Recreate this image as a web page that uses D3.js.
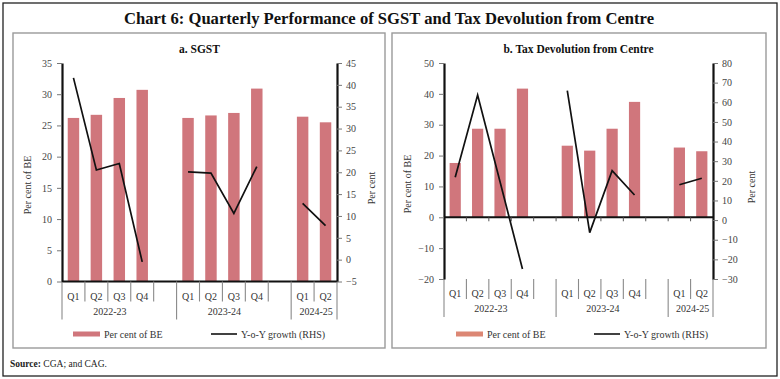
<!DOCTYPE html>
<html>
<head>
<meta charset="utf-8">
<script src="https://cdn.jsdelivr.net/npm/d3@7"></script>
<style>
  html, body { margin: 0; padding: 0; background: #fff; }
  svg { display: block; }
  text { font-family: "Liberation Serif", "Times New Roman", serif; }
</style>
</head>
<body>
<svg id="chart" width="780" height="379"></svg>
<script>
// ---------- DATA ----------
const quarters = ["Q1","Q2","Q3","Q4","","Q1","Q2","Q3","Q4","","Q1","Q2"];
const yearOfSlot = ["2022-23","2022-23","2022-23","2022-23","2022-23",
                    "2023-24","2023-24","2023-24","2023-24","2023-24",
                    "2024-25","2024-25"];
const years = ["2022-23","2023-24","2024-25"];

const sgstPerCentBE = [26.2, 26.7, 29.4, 30.7, null, 26.2, 26.6, 27.0, 30.9, null, 26.4, 25.5];
const sgstGrowth    = [41.6, 20.5, 22.0, -0.5, null, 20.1, 19.8, 10.6, 21.3, null, 12.9, 7.8];

const tdPerCentBE   = [17.6, 28.7, 28.7, 41.7, null, 23.2, 21.6, 28.7, 37.4, null, 22.6, 21.4];
const tdGrowth      = [21.8, 63.7, 19.5, -24.9, null, 65.9, -6.4, 25.2, 12.8, null, 18.0, 21.3];

const sgstLeftTicks  = [0, 5, 10, 15, 20, 25, 30, 35];
const sgstRightTicks = [-5, 0, 5, 10, 15, 20, 25, 30, 35, 40, 45];
const tdLeftTicks    = [-20, -10, 0, 10, 20, 30, 40, 50];
const tdRightTicks   = [-30, -20, -10, 0, 10, 20, 30, 40, 50, 60, 70, 80];

const chartTitle = "Chart 6: Quarterly Performance of SGST and Tax Devolution from Centre";
const legendBar = "Per cent of BE";
const legendLine = "Y-o-Y growth (RHS)";

// ---------- STYLE ----------
const barColor = "#D0767C";
const svg = d3.select("#chart");

// outer frame
svg.append("rect").attr("x", 3).attr("y", 3).attr("width", 774).attr("height", 373)
  .attr("fill", "none").attr("stroke", "#222").attr("stroke-width", 1.3);

svg.append("text").attr("x", 389).attr("y", 24).attr("text-anchor", "middle")
  .attr("font-size", 16.6).attr("fill", "#111").style("font-weight", "600").text(chartTitle);

svg.append("text").attr("x", 10).attr("y", 367).attr("font-size", 9.5).attr("fill", "#222")
  .call(t => {
    t.append("tspan").attr("font-weight", "bold").text("Source:");
    t.append("tspan").text(" CGA; and CAG.");
  });

function drawPanel(cfg) {
  const g = svg.append("g");
  // panel frame
  g.append("rect").attr("x", cfg.box[0]).attr("y", cfg.box[1])
    .attr("width", cfg.box[2]).attr("height", cfg.box[3])
    .attr("fill", "none").attr("stroke", "#9a9a9a").attr("stroke-width", 1.4);

  const x = d3.scaleBand().domain(d3.range(quarters.length)).range([cfg.x0, cfg.x1]).paddingInner(0).paddingOuter(0);
  const yL = d3.scaleLinear().domain(cfg.leftDomain).range([cfg.yBottom, cfg.yTop]);
  const yR = d3.scaleLinear().domain(cfg.rightDomain).range([cfg.yBottom, cfg.yTop]);
  const bw = x.bandwidth();

  // title
  g.append("text").attr("x", (cfg.x0 + cfg.x1) / 2).attr("y", 53).attr("text-anchor", "middle")
    .attr("font-size", 11.5).attr("font-weight", "bold").attr("fill", "#111").text(cfg.title);

  // bars
  const barData = cfg.bars.map((v, i) => ({ i, v })).filter(d => d.v !== null);
  g.selectAll("rect.bar").data(barData).enter().append("rect").attr("class", "bar")
    .attr("x", d => x(d.i) + bw * 0.25).attr("width", bw * 0.5)
    .attr("y", d => yL(Math.max(0, d.v))).attr("height", d => Math.abs(yL(d.v) - yL(0)))
    .attr("fill", barColor);

  // category axis at zero line
  const zeroY = yL(0);
  g.append("line").attr("x1", cfg.x0).attr("x2", cfg.x1).attr("y1", zeroY).attr("y2", zeroY)
    .attr("stroke", "#111").attr("stroke-width", 2);
  if (cfg.zeroTicks) {
    g.selectAll("line.zt").data(d3.range(1, quarters.length)).enter().append("line")
      .attr("x1", i => x(i)).attr("x2", i => x(i)).attr("y1", zeroY).attr("y2", zeroY + 4)
      .attr("stroke", "#555").attr("stroke-width", 1);
  }

  // separators below plot
  const starts = years.map(yr => yearOfSlot.indexOf(yr));
  const bounds = d3.range(quarters.length + 1);
  g.selectAll("line.sep").data(bounds).enter().append("line")
    .attr("x1", i => i < quarters.length ? x(i) : cfg.x1)
    .attr("x2", i => i < quarters.length ? x(i) : cfg.x1)
    .attr("y1", cfg.yBottom)
    .attr("y2", i => (starts.includes(i) || i === quarters.length) ? cfg.yBottom + 38 : cfg.yBottom + 20)
    .attr("stroke", "#8a8a8a").attr("stroke-width", 1.1);

  // quarter labels
  g.selectAll("text.q").data(quarters.map((q, i) => ({ q, i })).filter(d => d.q)).enter().append("text")
    .attr("x", d => x(d.i) + bw / 2).attr("y", cfg.yBottom + 18).attr("text-anchor", "middle")
    .attr("font-size", 10).attr("fill", "#333").text(d => d.q);

  // year labels
  g.selectAll("text.yr").data(years).enter().append("text")
    .attr("x", yr => {
      const idx = quarters.map((q, i) => i).filter(i => yearOfSlot[i] === yr && quarters[i]);
      return (x(idx[0]) + x(idx[idx.length - 1]) + bw) / 2 + 2;
    })
    .attr("y", cfg.yBottom + 33).attr("text-anchor", "middle")
    .attr("font-size", 10).attr("fill", "#333").text(yr => yr);

  // left axis
  const axL = g.append("g").attr("transform", `translate(${cfg.x0},0)`)
    .call(d3.axisLeft(yL).tickValues(cfg.leftTicks).tickSize(5).tickSizeOuter(0).tickPadding(5));
  // right axis
  const axR = g.append("g").attr("transform", `translate(${cfg.x1},0)`)
    .call(d3.axisRight(yR).tickValues(cfg.rightTicks).tickSize(5).tickSizeOuter(0).tickPadding(4));
  [axL, axR].forEach(ax => {
    ax.select(".domain").attr("stroke", "#111").attr("stroke-width", 2.2);
    ax.selectAll(".tick line").attr("stroke", "#777").attr("stroke-width", 1);
    ax.selectAll(".tick text").attr("font-family", "Liberation Serif, serif").attr("font-size", 10).attr("fill", "#444");
  });

  // line
  const lineGen = d3.line().defined(d => d.v !== null)
    .x(d => x(d.i) + bw / 2).y(d => yR(d.v));
  g.append("path").datum(cfg.line.map((v, i) => ({ i, v })))
    .attr("d", lineGen).attr("fill", "none").attr("stroke", "#111").attr("stroke-width", 1.7);

  // y titles
  g.append("text").attr("transform", `translate(${cfg.leftTitleX},${cfg.titleY}) rotate(-90)`)
    .attr("text-anchor", "middle").attr("font-size", 10).attr("fill", "#333").text("Per cent of BE");
  g.append("text").attr("transform", `translate(${cfg.rightTitleX},${cfg.titleY + 3}) rotate(-90)`)
    .attr("text-anchor", "middle").attr("font-size", 10).attr("fill", "#333").text("Per cent");

  // legend
  const ly = 334;
  g.append("rect").attr("x", cfg.legX).attr("y", ly - 2.5).attr("width", 27).attr("height", 5)
    .attr("fill", cfg.legendColor);
  g.append("text").attr("x", cfg.legX + 31).attr("y", ly + 3.5).attr("font-size", 10).attr("fill", "#333").text(legendBar);
  g.append("line").attr("x1", cfg.legX2).attr("x2", cfg.legX2 + 26).attr("y1", ly).attr("y2", ly)
    .attr("stroke", "#111").attr("stroke-width", 1.6);
  g.append("text").attr("x", cfg.legX2 + 30).attr("y", ly + 3.5).attr("font-size", 10).attr("fill", "#333").text(legendLine);
}

drawPanel({
  box: [13, 33, 372, 315], title: "a. SGST",
  x0: 62, x1: 337, yTop: 63, yBottom: 281.5,
  leftDomain: [0, 35], rightDomain: [-5, 45],
  leftTicks: sgstLeftTicks, rightTicks: sgstRightTicks,
  bars: sgstPerCentBE, line: sgstGrowth, zeroTicks: false,
  leftTitleX: 31, rightTitleX: 375, titleY: 185,
  legX: 73, legX2: 211, legendColor: barColor
});

drawPanel({
  box: [392, 33, 374, 315], title: "b. Tax Devolution from Centre",
  x0: 444, x1: 713, yTop: 63, yBottom: 279,
  leftDomain: [-20, 50], rightDomain: [-30, 80],
  leftTicks: tdLeftTicks, rightTicks: tdRightTicks,
  bars: tdPerCentBE, line: tdGrowth, zeroTicks: true,
  leftTitleX: 411, rightTitleX: 755, titleY: 184,
  legX: 456, legX2: 594, legendColor: "#DC8774"
});
</script>
</body>
</html>
